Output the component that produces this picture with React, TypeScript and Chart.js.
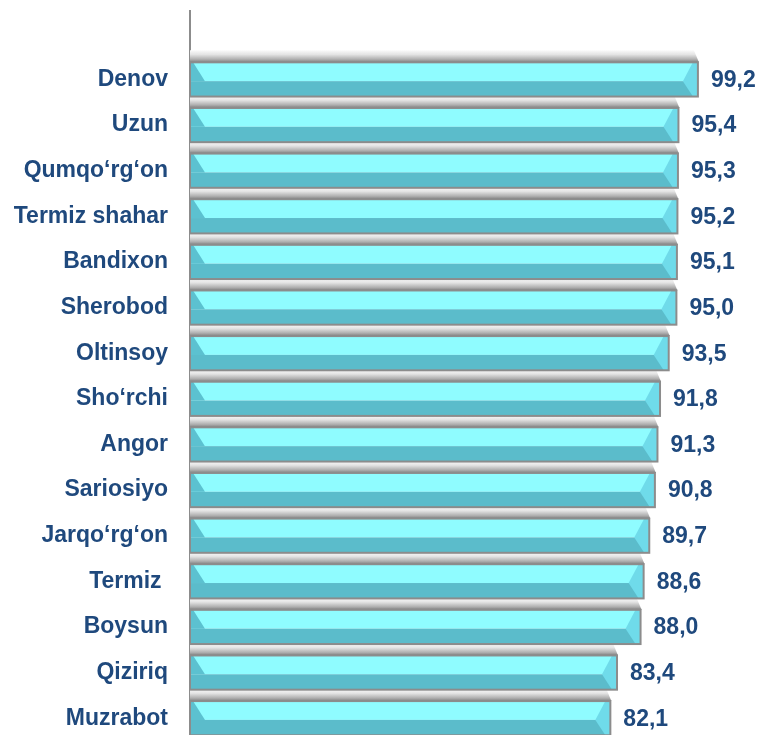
import React, { useEffect, useRef } from "react";
import { Chart, registerables } from "chart.js";

Chart.register(...registerables);

const categories = [
  "Denov",
  "Uzun",
  "Qumqo‘rg‘on",
  "Termiz shahar",
  "Bandixon",
  "Sherobod",
  "Oltinsoy",
  "Sho‘rchi",
  "Angor",
  "Sariosiyo",
  "Jarqo‘rg‘on",
  "Termiz ",
  "Boysun",
  "Qiziriq",
  "Muzrabot",
];

const values = [99.2, 95.4, 95.3, 95.2, 95.1, 95.0, 93.5, 91.8, 91.3, 90.8, 89.7, 88.6, 88.0, 83.4, 82.1];

const FONT = "'Liberation Sans', Arial, sans-serif";
const TEXT_COLOR = "#1f497d";

const bevelBars = {
  id: "bevelBars",
  afterDatasetsDraw(chart: any) {
    const ctx = chart.ctx as CanvasRenderingContext2D;
    const meta = chart.getDatasetMeta(0);
    const items: any[] = [];
    meta.data.forEach((el: any, i: number) => {
      const v = chart.data.datasets[0].data[i];
      if (v === null || v === undefined) return;
      const p = el.getProps(["x", "y", "base", "height"], true);
      items.push({ ...p, v });
    });
    ctx.save();
    // shadows above bars
    items.forEach((p) => {
      const top = p.y - p.height / 2;
      const left = p.base;
      const right = p.x;
      const sh = 12;
      const g = ctx.createLinearGradient(0, top - sh, 0, top);
      g.addColorStop(0, "rgba(250,250,250,1)");
      g.addColorStop(0.35, "rgba(228,228,228,1)");
      g.addColorStop(0.75, "rgba(175,175,175,1)");
      g.addColorStop(1, "rgba(128,128,128,1)");
      ctx.fillStyle = g;
      ctx.beginPath();
      ctx.moveTo(left, top - sh);
      ctx.lineTo(right - 4, top - sh);
      ctx.lineTo(right + 1, top);
      ctx.lineTo(left, top);
      ctx.closePath();
      ctx.fill();
    });
    // bars
    items.forEach((p) => {
      const top = p.y - p.height / 2;
      const bottom = p.y + p.height / 2;
      const left = p.base;
      const right = p.x;
      const mid = top + (bottom - top) * 0.55;
      ctx.fillStyle = "#8ffcff";
      ctx.fillRect(left, top, right - left, mid - top);
      ctx.fillStyle = "#5bbccb";
      ctx.fillRect(left, mid, right - left, bottom - mid);
      // left cap
      ctx.fillStyle = "#5cc1d0";
      ctx.beginPath();
      ctx.moveTo(left, top);
      ctx.lineTo(left + 3, top);
      ctx.lineTo(left + 15, mid);
      ctx.lineTo(left, mid);
      ctx.closePath();
      ctx.fill();
      // right cap
      ctx.fillStyle = "#6fdbea";
      ctx.beginPath();
      ctx.moveTo(right - 15, mid);
      ctx.lineTo(right - 5, top);
      ctx.lineTo(right, top);
      ctx.lineTo(right, bottom);
      ctx.lineTo(right - 5, bottom);
      ctx.closePath();
      ctx.fill();
      // border
      ctx.strokeStyle = "#8c8c8c";
      ctx.lineWidth = 2;
      ctx.strokeRect(left, top, right - left, bottom - top);
      // value label
      ctx.fillStyle = TEXT_COLOR;
      ctx.font = `bold 23px ${FONT}`;
      ctx.textAlign = "left";
      ctx.textBaseline = "middle";
      ctx.fillText(p.v.toFixed(1).replace(".", ","), right + 13, p.y + 1);
    });
    ctx.restore();
  },
};

export default function App() {
  const ref = useRef<HTMLCanvasElement>(null);
  useEffect(() => {
    if (!ref.current) return;
    const chart = new Chart(ref.current, {
      type: "bar",
      data: {
        labels: ["", ...categories],
        datasets: [
          {
            data: [null, ...values],
            backgroundColor: "rgba(0,0,0,0)",
            borderWidth: 0,
            barPercentage: 0.75,
            categoryPercentage: 1,
          },
        ],
      },
      plugins: [bevelBars],
      options: {
        indexAxis: "y",
        animation: false,
        responsive: false,
        devicePixelRatio: 1,
        layout: { padding: { top: 11, right: 61, left: 0, bottom: 0 } },
        plugins: {
          legend: { display: false },
          tooltip: { enabled: false },
          title: { display: false },
        },
        scales: {
          x: { display: false, min: 0, max: 100 },
          y: {
            afterFit: (scale: any) => {
              scale.width = 190;
              scale.paddingTop = 0;
              scale.paddingBottom = 0;
            },
            grid: { display: false, drawTicks: false },
            border: { display: true, color: "#8c8c8c", width: 2 },
            ticks: {
              padding: 22,
              color: TEXT_COLOR,
              font: { family: FONT, size: 23, weight: "bold" },
            },
          },
        },
      },
    } as any);
    return () => chart.destroy();
  }, []);
  return (
    <div
      style={{
        position: "fixed",
        left: 0,
        top: 0,
        width: 763,
        height: 735,
        overflow: "hidden",
        background: "#fff",
      }}
    >
      <canvas ref={ref} width={763} height={741} style={{ width: 763, height: 741, display: "block" }} />
    </div>
  );
}
